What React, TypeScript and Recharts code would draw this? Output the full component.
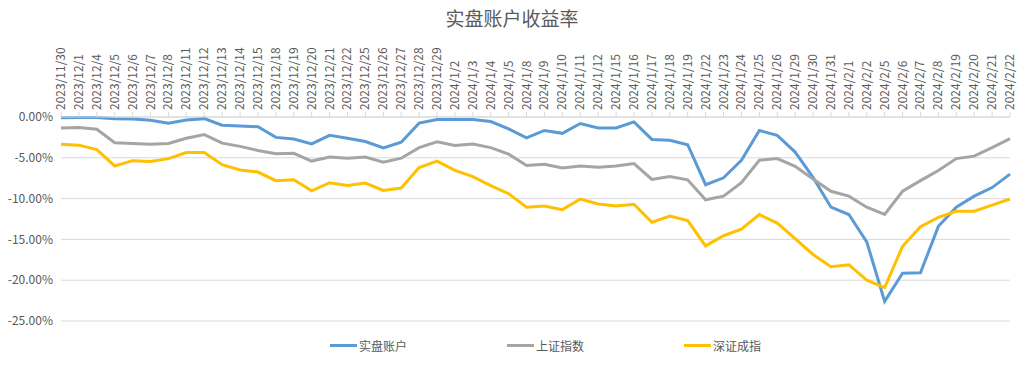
import React from 'react';
import { LineChart, Line, XAxis, YAxis, CartesianGrid } from 'recharts';

const categories = [
  '2023/11/30', '2023/12/1', '2023/12/4', '2023/12/5', '2023/12/6', '2023/12/7', '2023/12/8',
  '2023/12/11', '2023/12/12', '2023/12/13', '2023/12/14', '2023/12/15', '2023/12/18', '2023/12/19',
  '2023/12/20', '2023/12/21', '2023/12/22', '2023/12/25', '2023/12/26', '2023/12/27', '2023/12/28',
  '2023/12/29', '2024/1/2', '2024/1/3', '2024/1/4', '2024/1/5', '2024/1/8', '2024/1/9', '2024/1/10',
  '2024/1/11', '2024/1/12', '2024/1/15', '2024/1/16', '2024/1/17', '2024/1/18', '2024/1/19',
  '2024/1/22', '2024/1/23', '2024/1/24', '2024/1/25', '2024/1/26', '2024/1/29', '2024/1/30',
  '2024/1/31', '2024/2/1', '2024/2/2', '2024/2/5', '2024/2/6', '2024/2/7', '2024/2/8',
  '2024/2/19', '2024/2/20', '2024/2/21', '2024/2/22',
];

const account = [
  -0.1, -0.05, -0.05, -0.2, -0.25, -0.4, -0.75, -0.37, -0.2, -1.0, -1.1, -1.2, -2.5, -2.7,
  -3.3, -2.25, -2.6, -3.0, -3.8, -3.1, -0.75, -0.3, -0.3, -0.3, -0.55, -1.45, -2.55, -1.65,
  -2.0, -0.8, -1.35, -1.35, -0.6, -2.75, -2.85, -3.4, -8.3, -7.45, -5.3, -1.65, -2.25, -4.3,
  -7.4, -11.05, -11.95, -15.3, -22.6, -19.15, -19.1, -13.4, -11.05, -9.7, -8.65, -7.0,
];

const shanghai = [
  -1.35, -1.3, -1.5, -3.15, -3.25, -3.35, -3.25, -2.6, -2.15, -3.2, -3.6, -4.1, -4.5, -4.45,
  -5.4, -4.9, -5.05, -4.9, -5.55, -5.05, -3.75, -3.05, -3.5, -3.3, -3.75, -4.55, -5.95, -5.8,
  -6.25, -6.0, -6.15, -6.0, -5.7, -7.65, -7.3, -7.7, -10.15, -9.7, -8.05, -5.3, -5.1, -6.05,
  -7.6, -9.1, -9.7, -11.05, -11.95, -9.1, -7.8, -6.55, -5.1, -4.8, -3.75, -2.65,
];

const shenzhen = [
  -3.35, -3.45, -4.0, -6.0, -5.35, -5.45, -5.1, -4.35, -4.35, -5.85, -6.5, -6.75, -7.8, -7.7,
  -9.05, -8.05, -8.4, -8.1, -9.0, -8.7, -6.2, -5.4, -6.55, -7.3, -8.4, -9.4, -11.05, -10.9,
  -11.35, -10.05, -10.65, -10.9, -10.7, -12.9, -12.15, -12.7, -15.8, -14.55, -13.75, -11.95,
  -13.0, -14.9, -16.85, -18.35, -18.1, -20.0, -20.9, -15.85, -13.45, -12.3, -11.55, -11.55,
  -10.8, -10.05,
];

const yTicks = [-25, -20, -15, -10, -5, 0];

const seriesNames = ['实盘账户', '上证指数', '深证成指'];
const seriesColors = ['#5B9BD5', '#A5A5A5', '#FFC000'];
const seriesKeys = ['account', 'shanghai', 'shenzhen'];

const data = categories.map((date, i) => ({
  date,
  account: account[i],
  shanghai: shanghai[i],
  shenzhen: shenzhen[i],
}));

const FONT = '"Noto Sans CJK SC", "Noto Sans", sans-serif';
const TEXT_COLOR = '#595959';

const TopTick = (props: any) => {
  const { x, y, payload } = props;
  return (
    <text
      transform={`translate(${x},${y}) rotate(-90)`}
      x={0}
      y={0}
      dy={4}
      textAnchor="start"
      fill={TEXT_COLOR}
      fontSize={12}
      fontFamily={FONT}
    >
      {payload.value}
    </text>
  );
};

export default function App() {
  return (
    <div style={{ position: 'absolute', left: 0, top: 0, width: 1024, height: 371, background: '#fff', fontFamily: FONT }}>
      <div
        style={{
          position: 'absolute',
          left: 0,
          top: 5,
          width: 1024,
          textAlign: 'center',
          fontSize: 19,
          color: TEXT_COLOR,
          lineHeight: '26px',
        }}
      >
        实盘账户收益率
      </div>
      <LineChart
        width={1024}
        height={371}
        data={data}
        margin={{ top: 17, right: 14, bottom: 50, left: 0 }}
      >
        <CartesianGrid vertical={false} stroke="#d9d9d9" strokeWidth={1} />
        <XAxis
          dataKey="date"
          orientation="top"
          height={100}
          interval={0}
          tick={<TopTick />}
          tickLine={{ stroke: '#d9d9d9' }}
          tickSize={5}
          axisLine={{ stroke: '#d9d9d9' }}
        />
        <YAxis
          domain={[-25, 0]}
          ticks={yTicks}
          width={61}
          axisLine={false}
          tickLine={false}
          tickFormatter={(v: number) => `${v.toFixed(2)}%`}
          tick={{ fill: TEXT_COLOR, fontSize: 12, fontFamily: FONT }}
        />
        {seriesKeys.map((k, i) => (
          <Line
            key={k}
            type="linear"
            dataKey={k}
            name={seriesNames[i]}
            stroke={seriesColors[i]}
            strokeWidth={3}
            dot={false}
            isAnimationActive={false}
          />
        ))}
      </LineChart>
      <div
        style={{
          position: 'absolute',
          left: 330,
          top: 336,
          display: 'flex',
          fontSize: 12,
          color: TEXT_COLOR,
        }}
      >
        {seriesNames.map((n, i) => (
          <div key={n} style={{ width: 177, display: 'flex', alignItems: 'center', height: 18 }}>
            <div style={{ width: 27, height: 3, background: seriesColors[i], marginRight: 2 }} />
            <span>{n}</span>
          </div>
        ))}
      </div>
    </div>
  );
}
